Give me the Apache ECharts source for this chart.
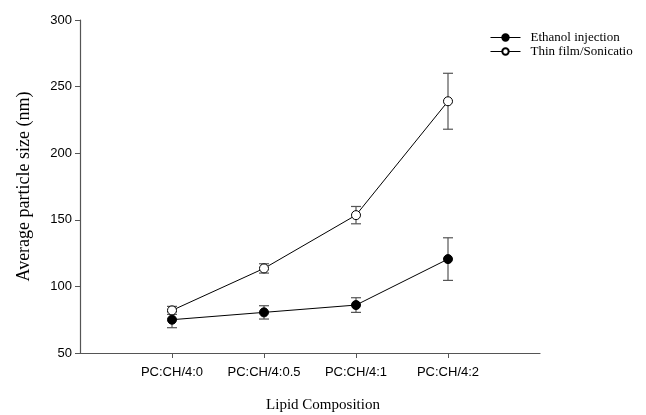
<!DOCTYPE html>
<html>
<head>
<meta charset="utf-8">
<script src="https://cdn.jsdelivr.net/npm/echarts@6/dist/echarts.min.js"></script>
<style>html,body{margin:0;padding:0;background:#fff}#c{width:646px;height:415px}</style>
</head>
<body>
<div id="c"></div>
<script>
var categories = ['PC:CH/4:0', 'PC:CH/4:0.5', 'PC:CH/4:1', 'PC:CH/4:2'];
var ethanolMean = [75, 80.5, 86, 120.5];
var ethanolErr = [6, 5, 5.5, 16];
var thinMean = [82, 113.5, 153.5, 239];
var thinErr = [3, 3.5, 6.5, 21];
var yTicks = [50, 100, 150, 200, 250, 300];

var positions = categories.map(function (c, i) { return i + 1; });
function pts(m) { return m.map(function (v, i) { return [positions[i], v]; }); }
function errs(m, e) { return m.map(function (v, i) { return [positions[i], v - e[i], v + e[i]]; }); }

function errRender(params, api) {
  var x = api.value(0);
  var lo = api.coord([x, api.value(1)]);
  var hi = api.coord([x, api.value(2)]);
  var w = 5;
  var st = { stroke: '#555', lineWidth: 1.2 };
  return {
    type: 'group',
    children: [
      { type: 'line', shape: { x1: lo[0], y1: lo[1], x2: hi[0], y2: hi[1] }, style: st },
      { type: 'line', shape: { x1: lo[0] - w, y1: lo[1], x2: lo[0] + w, y2: lo[1] }, style: st },
      { type: 'line', shape: { x1: hi[0] - w, y1: hi[1], x2: hi[0] + w, y2: hi[1] }, style: st }
    ]
  };
}

var chart = echarts.init(document.getElementById('c'));
chart.setOption({
  animation: false,
  backgroundColor: '#fff',
  grid: { left: 80, right: 106, top: 20, bottom: 62, containLabel: false, outerBoundsMode: 'none' },
  legend: {
    orient: 'vertical',
    left: 490,
    top: 31,
    padding: 0,
    itemWidth: 30,
    itemHeight: 8,
    itemGap: 1,
    lineStyle: { width: 1 },
    data: ['Ethanol injection', 'Thin film/Sonicatio'],
    textStyle: { fontFamily: 'Liberation Serif', fontSize: 13, color: '#000', padding: [0, 0, 0, 5] }
  },
  xAxis: {
    type: 'value',
    min: 0,
    max: 5,
    interval: 1,
    name: 'Lipid Composition',
    nameLocation: 'middle',
    nameGap: 45,
    nameTextStyle: { fontFamily: 'Liberation Serif', fontSize: 15, color: '#000', padding: [0, 0, 0, 26] },
    axisLine: { show: true, onZero: false, lineStyle: { color: '#555', width: 1.2 } },
    axisTick: { show: true, length: 5, inside: false, customValues: positions, lineStyle: { color: '#555' } },
    axisLabel: {
      customValues: positions,
      margin: 13,
      fontFamily: 'Liberation Sans', fontSize: 13, color: '#000',
      formatter: function (v) { return categories[Math.round(v) - 1] || ''; }
    },
    splitLine: { show: false }
  },
  yAxis: {
    type: 'value',
    min: 50,
    max: 300,
    interval: 50,
    name: 'Average particle size (nm)',
    nameLocation: 'middle',
    nameGap: 47,
    nameTextStyle: { fontFamily: 'Liberation Serif', fontSize: 18, color: '#000' },
    axisLine: { show: true, lineStyle: { color: '#555', width: 1.2 } },
    axisTick: { show: true, length: 5, lineStyle: { color: '#555' } },
    axisLabel: { margin: 8, fontFamily: 'Liberation Sans', fontSize: 13, color: '#000',
      customValues: yTicks },
    splitLine: { show: false }
  },
  series: [
    { type: 'custom', name: 'errE', renderItem: errRender, data: errs(ethanolMean, ethanolErr), z: 1, silent: true },
    { type: 'custom', name: 'errT', renderItem: errRender, data: errs(thinMean, thinErr), z: 1, silent: true },
    {
      type: 'line', name: 'Ethanol injection', data: pts(ethanolMean), z: 3,
      symbol: 'circle', symbolSize: 9, showAllSymbol: true,
      lineStyle: { color: '#000', width: 1 },
      itemStyle: { color: '#000', borderColor: '#000', borderWidth: 1 }
    },
    {
      type: 'line', name: 'Thin film/Sonicatio', data: pts(thinMean), z: 4,
      symbol: 'circle', symbolSize: 9, showAllSymbol: true,
      lineStyle: { color: '#000', width: 1 },
      itemStyle: { color: '#fff', borderColor: '#000', borderWidth: 1 }
    }
  ]
});
</script>
</body>
</html>
